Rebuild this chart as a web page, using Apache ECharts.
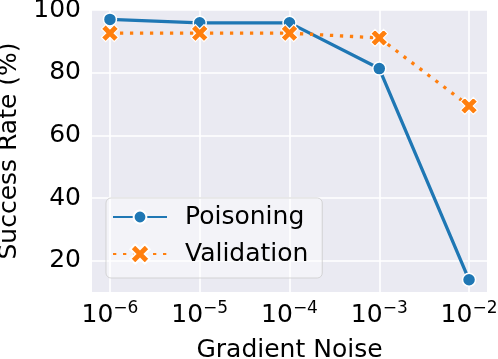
<!DOCTYPE html>
<html>
<head>
<meta charset="UTF-8">
<title>Success rate vs gradient noise</title>
<script src="https://cdn.jsdelivr.net/npm/echarts@6/dist/echarts.min.js"></script>
<style>
  * { margin: 0; padding: 0; }
  html, body { background: #fff; }
  #main { width: 498px; height: 359px; }
</style>
</head>
<body>
<div id="main"></div>
<script>
  // x = log10(gradient noise)
  var noiseExp = [-6, -5, -4, -3, -2];
  var poisoning = [97.0, 95.9, 95.9, 81.3, 13.9];
  var validation = [92.6, 92.6, 92.6, 91.1, 69.4];
  var yTicks = [20, 40, 60, 80, 100];

  var FONT = 'DejaVu Sans';
  var FS = 25;
  var xMarker = 'path://M75 0 L50 25 L25 0 L0 25 L25 50 L0 75 L25 100 L50 75 L75 100 L100 75 L75 50 L100 25 Z';

  function pairs(xs, ys) {
    return xs.map(function (x, i) { return [x, ys[i]]; });
  }

  var legendText = { fontSize: FS, color: '#000', fontFamily: FONT, padding: [0, 0, 0, 13] };

  var chart = echarts.init(document.getElementById('main'));
  chart.setOption({
    animation: false,
    textStyle: { fontFamily: FONT },
    grid: {
      left: 92, right: 11, top: 10, bottom: 67,
      outerBoundsMode: 'none',
      show: true, backgroundColor: '#EAEAF2', borderWidth: 0
    },
    xAxis: {
      type: 'value',
      min: -6.2, max: -1.8,
      axisLine: { show: false },
      axisTick: { show: false, customValues: noiseExp },
      splitLine: { lineStyle: { color: '#fff', width: 1.6 } },
      axisLabel: {
        customValues: noiseExp,
        margin: 8,
        color: '#000',
        formatter: function (v) {
          return '{b|10}{s|\u2212' + Math.abs(Math.round(v)) + '}';
        },
        rich: {
          b: { fontSize: FS, fontFamily: FONT, color: '#000' },
          s: { fontSize: 17, fontFamily: FONT, color: '#000', padding: [0, 0, 13, 0] }
        }
      },
      name: 'Gradient Noise',
      nameLocation: 'middle',
      nameGap: 46,
      nameTextStyle: { fontSize: FS, color: '#000', fontFamily: FONT }
    },
    yAxis: {
      type: 'value',
      min: 10, max: 100,
      axisLine: { show: false },
      axisTick: { show: false, customValues: yTicks },
      splitLine: { lineStyle: { color: '#fff', width: 1.6 } },
      axisLabel: {
        customValues: yTicks,
        margin: 11,
        fontSize: FS,
        color: '#000'
      },
      name: 'Success Rate (%)',
      nameLocation: 'middle',
      nameGap: 68,
      nameTextStyle: { fontSize: FS, color: '#000', fontFamily: FONT }
    },
    legend: [
      {
        left: 106, top: 198,
        itemWidth: 54, itemHeight: 16,
        padding: [6.5, 18, 48.5, 6],
        backgroundColor: 'rgba(255,255,255,0.45)',
        borderColor: 'rgba(204,204,204,0.8)', borderWidth: 1, borderRadius: 5,
        textStyle: legendText,
        data: ['Poisoning']
      },
      {
        left: 112, top: 241.5,
        itemWidth: 54, itemHeight: 24,
        padding: 0,
        textStyle: legendText,
        data: ['Validation']
      }
    ],
    series: [
      {
        name: 'Poisoning',
        type: 'line',
        data: pairs(noiseExp, poisoning),
        symbol: 'circle', symbolSize: 13,
        lineStyle: { color: '#1f77b4', width: 3.3 },
        itemStyle: { color: '#1f77b4', borderColor: '#fff', borderWidth: 1.5 },
        z: 2
      },
      {
        name: 'Validation',
        type: 'line',
        data: pairs(noiseExp, validation),
        symbol: xMarker, symbolSize: 17,
        lineStyle: { color: '#ff7f0e', width: 3.3, type: [3.3, 6.7] },
        itemStyle: { color: '#ff7f0e', borderColor: '#fff', borderWidth: 1.2 },
        z: 3
      }
    ]
  });
</script>
</body>
</html>
